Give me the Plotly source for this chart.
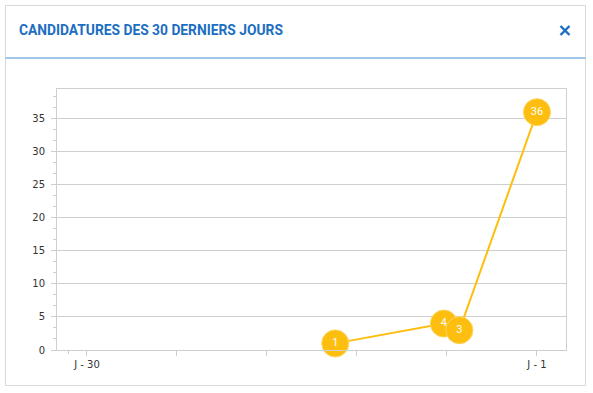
import plotly.graph_objects as go

# ---- data ----
day_labels = ["J - %d" % d for d in range(30, 0, -1)]  # J - 30 ... J - 1
point_days = ["J - 14", "J - 7", "J - 6", "J - 1"]
point_values = [1, 4, 3, 36]
title_text = "CANDIDATURES DES 30 DERNIERS JOURS"
y_tick_values = [0, 5, 10, 15, 20, 25, 30, 35]

idx = {lab: i for i, lab in enumerate(day_labels)}
xs = [idx[d] for d in point_days]
n = len(day_labels) - 1
major_x = [n * k / 5 for k in range(6)]
major_x_text = [day_labels[0], "", "", "", "", day_labels[-1]]

W, H = 593, 393
gold = "#FDBE10"
blue = "#1B6EC2"
grid = "#CFCFCF"


def px(x):
    return (x - 57) / 509


def py(y):
    return (350 - y) / 261


fig = go.Figure()
fig.add_trace(go.Scatter(
    x=xs, y=point_values, mode="lines+markers+text",
    text=[str(v) for v in point_values], textposition="middle center",
    textfont=dict(color="white", size=11, family="Roboto"),
    line=dict(color=gold, width=2),
    marker=dict(size=27, color=gold, line=dict(color="#FFD45A", width=1)),
    hoverinfo="skip", cliponaxis=False, showlegend=False,
))

fig.update_layout(
    width=W, height=H,
    margin=dict(l=57, r=27, t=89, b=43),
    paper_bgcolor="white", plot_bgcolor="white",
    font=dict(family="DejaVu Sans", size=10, color="#333"),
    xaxis=dict(
        range=[-1.93, 30.87], tickmode="array", tickvals=major_x, ticktext=major_x_text,
        ticks="outside", ticklen=5, tickcolor=grid, showgrid=False,
        showline=True, linecolor=grid, linewidth=1, mirror=True, zeroline=False,
        minor=dict(tickmode="array", tickvals=[-1.22], ticks="outside", ticklen=3, tickcolor=grid),
        tickfont=dict(size=10, color="#333"), fixedrange=True,
    ),
    yaxis=dict(
        range=[0, 39.5], tickmode="array", tickvals=y_tick_values,
        ticks="outside", ticklen=5, tickcolor=grid, showgrid=True, gridcolor=grid, gridwidth=1,
        showline=True, linecolor=grid, linewidth=1, mirror=True, zeroline=False,
        minor=dict(dtick=5/3, tick0=0, ticks="outside", ticklen=3, tickcolor=grid, showgrid=False),
        ticklabelstandoff=4,
        tickfont=dict(size=10, color="#333"), fixedrange=True,
    ),
    shapes=[
        dict(type="rect", xref="paper", yref="paper",
             x0=px(5.5), x1=px(585.5), y0=py(385.5), y1=py(5.5),
             line=dict(color="#D9D9D9", width=1), layer="below"),
        dict(type="line", xref="paper", yref="paper",
             x0=px(5.5), x1=px(585.5), y0=py(58), y1=py(58),
             line=dict(color="#7FB3E0", width=1.5)),
        dict(type="line", xref="paper", yref="paper",
             x0=px(560.5), x1=px(569.5), y0=py(26), y1=py(35),
             line=dict(color=blue, width=2.4)),
        dict(type="line", xref="paper", yref="paper",
             x0=px(560.5), x1=px(569.5), y0=py(35), y1=py(26),
             line=dict(color=blue, width=2.4)),
    ],
    annotations=[
        dict(text="<b>" + title_text + "</b>", xref="paper", yref="paper",
             x=px(16.5), y=py(30), xanchor="left", yanchor="middle",
             showarrow=False, font=dict(family="Roboto", size=13.8, color=blue)),
    ],
)

fig.write_html("out.html", config={"displayModeBar": False},
               post_script="document.body.style.margin='0';")
